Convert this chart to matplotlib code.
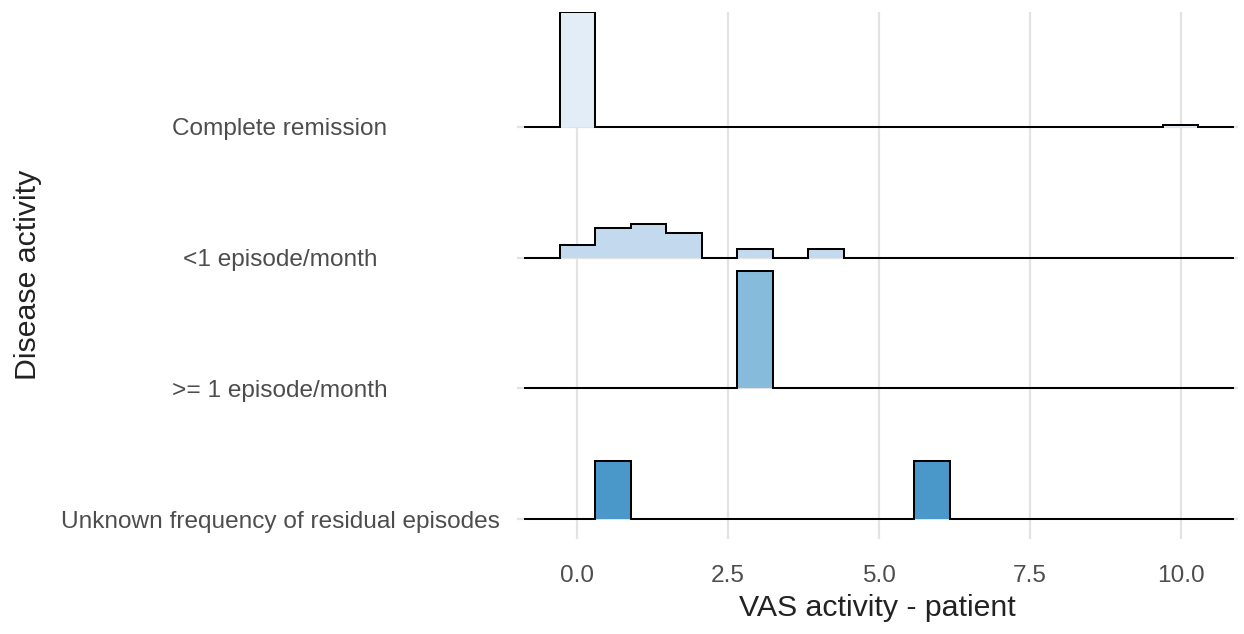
import numpy as np
import matplotlib
matplotlib.use("Agg")
import matplotlib.pyplot as plt

plt.rcParams['font.family'] = ['Liberation Sans', 'DejaVu Sans']

# Disease-activity groups, bottom row first
groups = [
    "Unknown frequency of residual episodes",
    ">= 1 episode/month",
    "<1 episode/month",
    "Complete remission",
]
fills = ["#4A97C9", "#86BBDB", "#C3D9EE", "#E2EDF8"]

# Histogram bins of VAS activity (patient): 18 bins over 0..10, centred on 0 and 10
n_bins = 18
bin_width = 10.0 / (n_bins - 1)

# Counts per bin (bin index -> patients) for every group
counts_unknown = {1: 1, 10: 1}
counts_ge1 = {5: 3}
counts_lt1 = {0: 3, 1: 7, 2: 8, 3: 6, 5: 2, 7: 2}
counts_remission = {0: 47, 17: 1}
group_counts = [counts_unknown, counts_ge1, counts_lt1, counts_remission]

x_ticks = [0.0, 2.5, 5.0, 7.5, 10.0]
x_tick_labels = ["0.0", "2.5", "5.0", "7.5", "10.0"]

ridge_scale = 0.895  # height of a ridge holding all of its group in a single bin

fig = plt.figure(figsize=(12.44, 6.34), dpi=100)
ax = fig.add_axes([517 / 1244, 1 - 539 / 634, 721 / 1244, 527 / 634])
ax.set_xlim(-1.0, 10.95)
ax.set_ylim(-0.153, 3.880)

grid_col = "#E3E3E3"
for xt in x_ticks:
    ax.axvline(xt, color=grid_col, lw=1.6, zorder=0)
for row in range(len(groups)):
    ax.axhline(row, color=grid_col, lw=1.6, zorder=0)

# padded bin edges: one empty bin either side of the data range
edges = (np.arange(-1, n_bins + 2) - 0.5) * bin_width
n_total_bins = len(edges) - 1

# draw from the top row down so lower ridges sit in front
for row in reversed(range(len(groups))):
    cnt = group_counts[row]
    n = sum(cnt.values())
    dens = np.zeros(n_total_bins)
    for k, c in cnt.items():
        dens[k + 1] = c / n * ridge_scale
    xs = np.repeat(edges, 2)[1:-1]
    ys = np.repeat(dens, 2) + row
    z = 10 + (len(groups) - row) * 2
    ax.fill_between(xs, row, ys, color=fills[row], lw=0, zorder=z)
    ax.plot(xs, ys, color="black", lw=1.45, zorder=z + 1,
            solid_joinstyle="miter", solid_capstyle="butt")

for s in ax.spines.values():
    s.set_visible(False)

ax.set_xticks(x_ticks)
ax.set_xticklabels(x_tick_labels)
ax.set_yticks(range(len(groups)))
ax.set_yticklabels(groups, ha="center")
ax.tick_params(axis="both", length=0, labelsize=17.6, labelcolor="#4D4D4D")
ax.tick_params(axis="y", pad=170.6)
ax.tick_params(axis="x", pad=19)

ax.set_xlabel("VAS activity - patient", fontsize=21.8, color="#222222")
ax.xaxis.set_label_coords(0.5, -(608 - 539) / 527)
ax.xaxis.label.set_va("center")
ax.set_ylabel("Disease activity", fontsize=21.8, color="#222222")
ax.yaxis.set_label_coords((28 - 517) / 721, (539 - 275) / 527)
ax.yaxis.label.set_va("center")

fig.savefig("out.png", dpi=100)
